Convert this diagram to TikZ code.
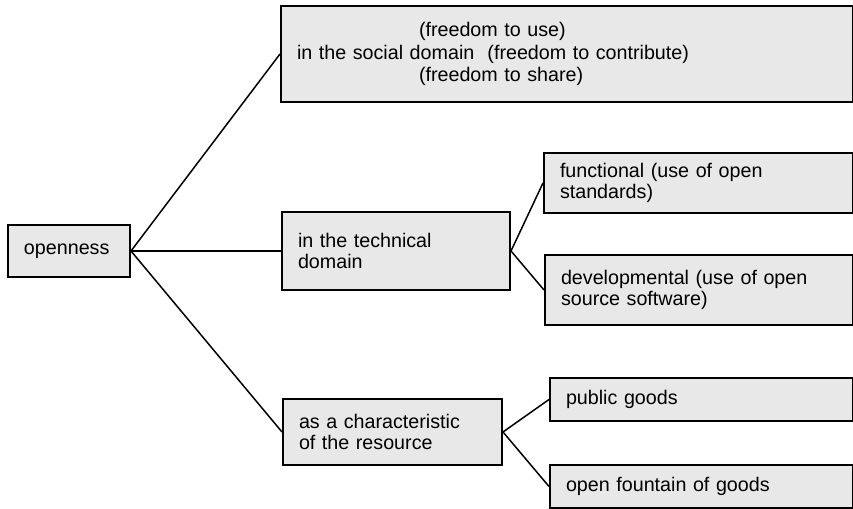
\documentclass[tikz,border=0pt]{standalone}
\usepackage{fontspec}
\setmainfont{Liberation Sans}
\usepackage{xcolor}
\definecolor{boxfill}{RGB}{232,232,232}

\begin{document}
\begin{tikzpicture}[x=0.5pt,y=0.5pt,
    font=\fontsize{9.85}{10.35}\selectfont,
    box/.style={draw,line width=1pt,fill=boxfill,anchor=west,align=left,
      inner xsep=8pt,inner ysep=0pt},
    link/.style={line width=0.75pt}]
  \useasboundingbox (0,0) rectangle (853,509);

  % root
  \node[box,text width=45pt,minimum height=26pt] (open) at (7,258) {openness};

  % three domains
  \node[box,text width=270pt,minimum height=48pt] (social) at (280,455)
    {\hspace*{61pt}(freedom to use)\\[0.9pt]
     in the social domain\ \ (freedom to contribute)\\[0.9pt]
     \hspace*{61pt}(freedom to share)\\[2pt]};
  \node[box,text width=98pt,minimum height=39pt] (tech) at (281,258)
    {in the technical\\domain};
  \node[box,text width=93.5pt,minimum height=33pt] (res) at (282,77)
    {as a characteristic\\of the resource};

  % leaves
  \node[box,text width=138.5pt,minimum height=30pt] (func) at (543,326)
    {functional (use of open\\standards)};
  \node[box,text width=138pt,minimum height=35pt] (dev) at (544,219)
    {developmental (use of open\\source software)};
  \node[box,text width=135.5pt,minimum height=21.5pt] (pub) at (549,109.5)
    {public goods};
  \node[box,text width=135.5pt,minimum height=21.5pt] (fount) at (549,22.5)
    {open fountain of goods};

  \foreach \t in {social,tech,res}
    \draw[link] (open.east) -- (\t.west);
  \foreach \t in {func,dev}
    \draw[link] (tech.east) -- (\t.west);
  \foreach \t in {pub,fount}
    \draw[link] (res.east) -- (\t.west);
\end{tikzpicture}
\end{document}
